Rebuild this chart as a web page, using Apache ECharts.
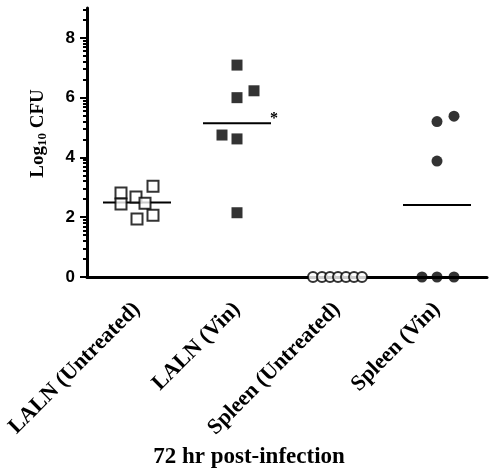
<!DOCTYPE html>
<html>
<head>
<meta charset="utf-8">
<script src="https://cdn.jsdelivr.net/npm/echarts@6/dist/echarts.min.js"></script>
<style>
  html, body { margin: 0; padding: 0; background: #fff; }
  #chart-container { width: 489px; height: 471px; }
</style>
</head>
<body>
<div id="chart-container"></div>
<script>
var dom = document.getElementById("chart-container");
var myChart = echarts.init(dom, null, { renderer: "canvas" });

var categories = ["LALN (Untreated)", "LALN (Vin)", "Spleen (Untreated)", "Spleen (Vin)"];
var majorTicks = [0, 2, 4, 6, 8];

// points: x = jittered group position, y = log10 CFU
var lalnUntreatedX = [0.84, 0.84, 0.99, 1.08, 1.16, 1.0, 1.16];
var lalnUntreatedY = [2.81, 2.44, 2.68, 2.47, 3.04, 1.94, 2.07];
var lalnVinX = [2.0, 2.0, 2.17, 1.85, 2.0, 2.0];
var lalnVinY = [7.09, 6.0, 6.23, 4.75, 4.62, 2.15];
var spleenUntreatedX = [2.76, 2.85, 2.93, 3.01, 3.09, 3.17, 3.25];
var spleenUntreatedY = [0, 0, 0, 0, 0, 0, 0];
var spleenVinX = [4.0, 4.17, 4.0, 3.85, 4.0, 4.17];
var spleenVinY = [5.2, 5.38, 3.88, 0, 0, 0];
var marks = ["", "*", "", ""];

var serif = "'Liberation Serif', 'Times New Roman', serif";
var sans = "'Liberation Sans', Arial, sans-serif";

function pairs(xs, ys) {
  return xs.map(function (x, i) { return [x, ys[i]]; });
}
function mean(ys) {
  return ys.reduce(function (a, b) { return a + b; }, 0) / ys.length;
}

var groups = [lalnUntreatedY, lalnVinY, spleenUntreatedY, spleenVinY];
var meanData = groups.map(function (ys, i) { return [i + 1, mean(ys)]; });

// log-style minor ticks inside each 2-unit step
var minorTicks = [];
for (var k = 0; k < 9; k += 2) {
  for (var m = 2; m <= 9; m++) {
    var v = k + 2 * Math.log10(m);
    if (v <= 9) minorTicks.push(+v.toFixed(3));
  }
}

var option = {
  animation: false,
  grid: { left: 87, right: 2, top: 8, bottom: 194 },
  graphic: [
    {
      type: "text",
      x: 249,
      y: 457,
      style: {
        text: "72 hr post-infection",
        font: "bold 23px " + serif,
        fill: "#000",
        textAlign: "center",
        textVerticalAlign: "middle",
      },
    },
  ],
  xAxis: [
    {
      type: "category",
      data: categories,
      boundaryGap: true,
      axisLine: { lineStyle: { color: "#000", width: 3 } },
      axisTick: { alignWithLabel: true, length: 7, lineStyle: { color: "#000", width: 2 } },
      axisLabel: {
        rotate: 45,
        margin: 29,
        interval: 0,
        fontFamily: serif,
        fontWeight: "bold",
        fontSize: 22,
        color: "#000",
      },
      splitLine: { show: false },
    },
    {
      type: "value",
      min: 0.5,
      max: 4.5,
      show: false,
    },
  ],
  yAxis: [
    {
      type: "value",
      min: 0,
      max: 9,
      name: "{n|Log}{s|10}{n| CFU}",
      nameLocation: "middle",
      nameGap: 38,
      nameTextStyle: {
        padding: [0, 0, 0, 18],
        rich: {
          n: { fontFamily: serif, fontWeight: "bold", fontSize: 19, color: "#000" },
          s: { fontFamily: serif, fontWeight: "bold", fontSize: 13, color: "#000", padding: [8, 0, 0, 0] },
        },
      },
      axisLine: { show: true, lineStyle: { color: "#000", width: 3 } },
      axisTick: { show: true, length: 7, customValues: majorTicks, lineStyle: { color: "#000", width: 2 } },
      axisLabel: {
        customValues: majorTicks,
        margin: 12,
        fontFamily: sans,
        fontWeight: "bold",
        fontSize: 17,
        color: "#000",
      },
      splitLine: { show: false },
    },
    {
      type: "value",
      min: 0,
      max: 9,
      position: "left",
      axisLine: { show: false },
      axisTick: { show: true, length: 4, customValues: minorTicks, lineStyle: { color: "#000", width: 2 } },
      axisLabel: { show: false },
      splitLine: { show: false },
    },
  ],
  series: [
    {
      type: "custom",
      xAxisIndex: 1,
      yAxisIndex: 0,
      clip: false,
      z: 3,
      data: meanData,
      renderItem: function (params, api) {
        var x = api.value(0);
        var y = api.value(1);
        var p0 = api.coord([x - 0.34, y]);
        var p1 = api.coord([x + 0.34, y]);
        var children = [
          {
            type: "line",
            shape: { x1: p0[0], y1: p0[1], x2: p1[0], y2: p1[1] },
            style: { stroke: "#000", lineWidth: 2 },
          },
        ];
        var mk = marks[params.dataIndex];
        if (mk) {
          children.push({
            type: "text",
            style: {
              text: mk,
              x: p1[0] - 1,
              y: p1[1] + 3,
              fill: "#000",
              font: "bold 16px " + serif,
              textVerticalAlign: "bottom",
            },
          });
        }
        return { type: "group", children: children };
      },
    },
    {
      type: "scatter",
      xAxisIndex: 1,
      symbol: "rect",
      symbolSize: 11,
      clip: false,
      z: 4,
      itemStyle: { color: "#fff", borderColor: "#000", borderWidth: 2 },
      data: pairs(lalnUntreatedX, lalnUntreatedY),
    },
    {
      type: "scatter",
      xAxisIndex: 1,
      symbol: "rect",
      symbolSize: 11,
      clip: false,
      z: 4,
      itemStyle: { color: "#000" },
      data: pairs(lalnVinX, lalnVinY),
    },
    {
      type: "scatter",
      xAxisIndex: 1,
      symbol: "circle",
      symbolSize: 10,
      clip: false,
      z: 4,
      itemStyle: { color: "#fff", borderColor: "#000", borderWidth: 2 },
      data: pairs(spleenUntreatedX, spleenUntreatedY),
    },
    {
      type: "scatter",
      xAxisIndex: 1,
      symbol: "circle",
      symbolSize: 11,
      clip: false,
      z: 4,
      itemStyle: { color: "#000" },
      data: pairs(spleenVinX, spleenVinY),
    },
  ],
};

myChart.setOption(option);
</script>
</body>
</html>
